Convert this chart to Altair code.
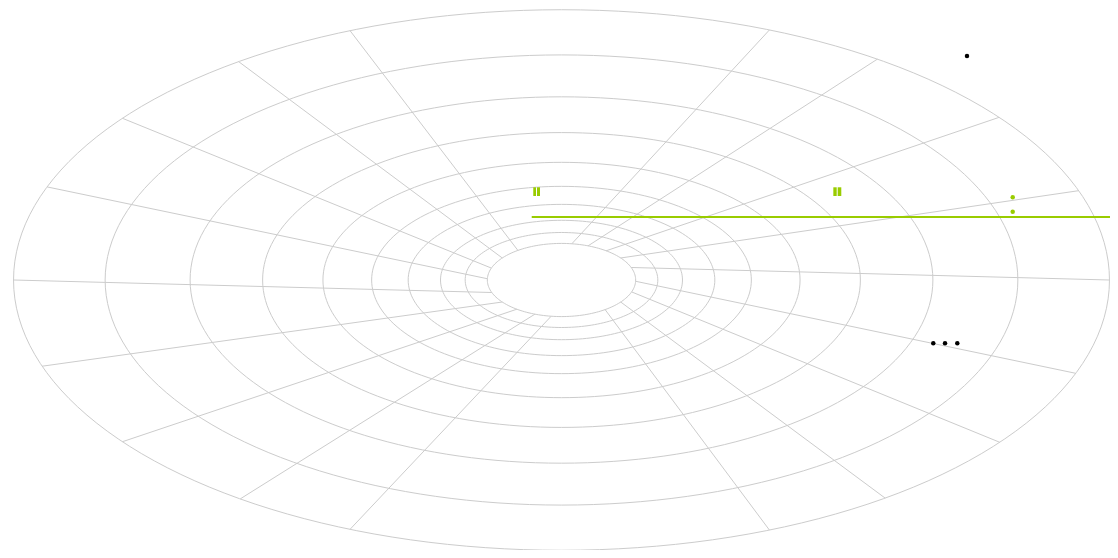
import altair as alt
import pandas as pd

# ---- grid (polar grid drawn on a stretched plane) ----
ring_radii = [0.99, 0.8245, 0.671, 0.540, 0.431, 0.343, 0.277, 0.2186, 0.174, 0.134]
ring_step_deg = 2
spoke_outer_deg = [112.7, 67.7, 54.8, 37.0, 19.3, 0.0, -20.2, -36.9, -53.8, -67.7,
                   -112.7, -125.9, -143.25, -161.4, 180.0, 159.85, 143.25, 126.1]
spoke_inner_deg = [126.0, 82.0, 69.0, 53.0, 37.0, 20.0, -2.0, -19.0, -37.0, -54.0,
                   -98.0, -111.0, -127.0, -143.0, 200.0, 178.0, 161.0, 143.0]
spoke_inner_r = 0.134
spoke_outer_r = 0.99

# ---- marks ----
black_x = [0.7326, 0.6717, 0.6929, 0.7151]
black_y = [0.8205, -0.2319, -0.2319, -0.2319]
green_dot_x = [0.8152, 0.8152]
green_dot_y = [0.3029, 0.2502]
bar_x1 = [-0.0510, -0.0443, 0.4911, 0.4990]
bar_x2 = [-0.0461, -0.0388, 0.4972, 0.5055]
bar_y1 = [0.3077, 0.3077, 0.3077, 0.3077]
bar_y2 = [0.3396, 0.3396, 0.3396, 0.3396]
rule_x1 = [-0.0538]
rule_x2 = [0.99097]
rule_y = [0.2308]

GREEN = "#99cc00"
GRID = "#cccccc"

rings = pd.DataFrame(
    [{"ring": i, "r": r, "t": t} for i, r in enumerate(ring_radii)
     for t in range(0, 361, ring_step_deg)]
)
spokes = pd.DataFrame(
    [{"spoke": i, "r": spoke_inner_r, "t": a_in, "o": 0}
     for i, a_in in enumerate(spoke_inner_deg)]
    + [{"spoke": i, "r": spoke_outer_r, "t": a_out, "o": 1}
       for i, a_out in enumerate(spoke_outer_deg)]
)

xs = alt.Scale(domain=[-1.0, 0.99097], nice=False, zero=False)
ys = alt.Scale(domain=[-0.989011, 0.996337], nice=False, zero=False)
X = lambda f: alt.X(f, type="quantitative", scale=xs, axis=None)
Y = lambda f: alt.Y(f, type="quantitative", scale=ys, axis=None)

ring_layer = alt.Chart(rings).transform_calculate(
    x="datum.r * cos(datum.t * PI / 180)",
    y="datum.r * sin(datum.t * PI / 180)",
).mark_line(color=GRID, strokeWidth=1).encode(
    x=X("x"), y=Y("y"), detail="ring:N", order="t:Q"
)

spoke_layer = alt.Chart(spokes).transform_calculate(
    x="datum.r * cos(datum.t * PI / 180)",
    y="datum.r * sin(datum.t * PI / 180)",
).mark_line(color=GRID, strokeWidth=1).encode(
    x=X("x"), y=Y("y"), detail="spoke:N", order="o:Q"
)

rule_layer = alt.Chart(pd.DataFrame({"x1": rule_x1, "x2": rule_x2, "y": rule_y})).mark_rule(
    color=GREEN, strokeWidth=2
).encode(x=X("x1"), x2="x2:Q", y=Y("y"))

bar_layer = alt.Chart(pd.DataFrame({"x1": bar_x1, "x2": bar_x2, "y1": bar_y1, "y2": bar_y2})).mark_rect(
    color=GREEN
).encode(x=X("x1"), x2="x2:Q", y=Y("y1"), y2="y2:Q")

gdot_layer = alt.Chart(pd.DataFrame({"x": green_dot_x, "y": green_dot_y})).mark_circle(
    color=GREEN, size=20, opacity=1
).encode(x=X("x"), y=Y("y"))

bdot_layer = alt.Chart(pd.DataFrame({"x": black_x, "y": black_y})).mark_circle(
    color="#000000", size=20, opacity=1
).encode(x=X("x"), y=Y("y"))

chart = alt.layer(
    ring_layer, spoke_layer, rule_layer, bar_layer, gdot_layer, bdot_layer
).properties(
    width=1102, height=542, padding=0, autosize="none"
).configure_view(stroke=None)

chart.save("out.html", embed_options={"renderer": "svg", "actions": False})
